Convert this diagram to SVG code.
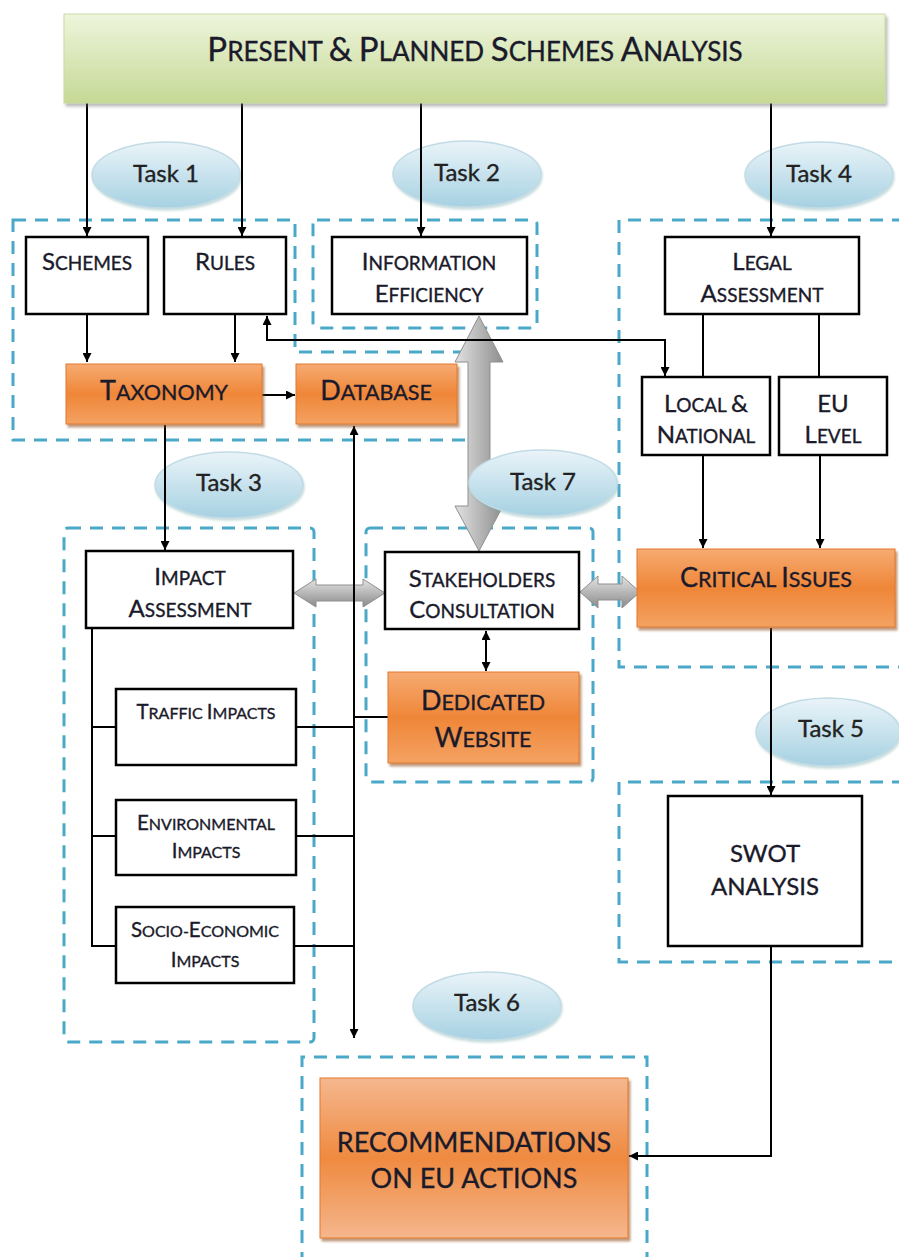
<svg xmlns="http://www.w3.org/2000/svg" width="899" height="1257" viewBox="0 0 899 1257">
<defs>
<linearGradient id="gHead" x1="0" y1="0" x2="0" y2="1"><stop offset="0" stop-color="#eef5dc"/><stop offset="1" stop-color="#c5d995"/></linearGradient>
<linearGradient id="gOr" x1="0" y1="0" x2="0" y2="1"><stop offset="0" stop-color="#f6ab72"/><stop offset="0.5" stop-color="#ef8638"/><stop offset="1" stop-color="#f4a262"/></linearGradient>
<linearGradient id="gOr2" x1="0" y1="0" x2="0" y2="1"><stop offset="0" stop-color="#f5b78e"/><stop offset="0.5" stop-color="#ef8a40"/><stop offset="1" stop-color="#f5b68c"/></linearGradient>
<linearGradient id="gEl" x1="0" y1="0" x2="0" y2="1"><stop offset="0" stop-color="#eaf4f9"/><stop offset="1" stop-color="#a6d1e2"/></linearGradient>
<linearGradient id="gGrV" x1="0" y1="0" x2="1" y2="0"><stop offset="0" stop-color="#e2e2e2"/><stop offset="1" stop-color="#8e8e8e"/></linearGradient>
<linearGradient id="gGrH" x1="0" y1="0" x2="0" y2="1"><stop offset="0" stop-color="#e4e4e4"/><stop offset="1" stop-color="#8a8a8a"/></linearGradient>
<filter id="sh" x="-5%" y="-10%" width="115%" height="130%"><feDropShadow dx="2" dy="3" stdDeviation="1.2" flood-color="#8a4a18" flood-opacity="0.55"/></filter>
<filter id="shG" x="-5%" y="-10%" width="115%" height="130%"><feDropShadow dx="2" dy="3" stdDeviation="1.5" flood-color="#666" flood-opacity="0.45"/></filter>
<filter id="shE" x="-10%" y="-10%" width="125%" height="130%"><feDropShadow dx="1" dy="2" stdDeviation="1.2" flood-color="#7aa" flood-opacity="0.4"/></filter>
<marker id="ah" viewBox="0 0 10 10" refX="10" refY="5" markerWidth="10" markerHeight="9" markerUnits="userSpaceOnUse" orient="auto-start-reverse"><path d="M0,0 L10,5 L0,10 z" fill="#000"/></marker>
</defs>
<style>
.dash{fill:none;stroke:#4aa9c8;stroke-width:3;stroke-dasharray:13,9}
.box{fill:#fff;stroke:#000;stroke-width:2.5}
.or{fill:url(#gOr);stroke:#e2782e;stroke-width:1;filter:url(#sh)}
.ln{fill:none;stroke:#000;stroke-width:2}
.ar{marker-end:url(#ah)}
.ar2{marker-start:url(#ah);marker-end:url(#ah)}
.el{fill:url(#gEl);stroke:#c2dbe5;stroke-width:1.5;filter:url(#shE)}
.blk{stroke:#8f8f8f;stroke-width:1}
text{font-family:Lato,"Liberation Sans",sans-serif;fill:#1a1a2a;stroke:#1a1a2a;stroke-width:0.35;text-anchor:middle}
.s0{font-size:26px}.b0{font-size:33px}
.s1{font-size:19px}.b1{font-size:24px}
.s2{font-size:21.5px}.b2{font-size:27px}
.s3{font-size:16px}.b3{font-size:20.5px}
.tk{font-size:24px;fill:#222;stroke:#222}
.cap{font-size:24px}
.cap2{font-size:27px}
</style>

<!-- dashed task regions -->
<g id="regions">
<path class="dash" d="M13,220 H295 V352 H470 V440 H13 Z"/>
<rect class="dash" x="313" y="220" width="224" height="108" rx="4"/>
<path class="dash" d="M905,220 H619 V667 H905"/>
<rect class="dash" x="64" y="528" width="250" height="514" rx="4"/>
<rect class="dash" x="366" y="528" width="227" height="254" rx="4"/>
<path class="dash" d="M905,782 H619 V962 H905"/>
<path class="dash" d="M302,1265 V1057 H647 V1265"/>
</g>

<!-- block arrows -->
<g id="block-arrows">
<polygon class="blk" fill="url(#gGrH)" points="294,593 316,579 316,585 363,585 363,579 385,593 363,607 363,601 316,601 316,607"/>
<polygon class="blk" fill="url(#gGrH)" points="580,592 598,576 598,584 622,584 622,576 640,592 622,608 622,600 598,600 598,608"/>
<polygon class="blk" fill="url(#gGrV)" points="479,316 503,362 490,362 490,506 503,506 479,551 455,506 468,506 468,362 455,362"/>
</g>

<!-- task labels -->
<g id="task1"><ellipse class="el" cx="166" cy="175" rx="74" ry="33"/><text class="tk" x="166" y="182">Task 1</text></g>
<g id="task2"><ellipse class="el" cx="467" cy="174" rx="74" ry="33"/><text class="tk" x="467" y="181">Task 2</text></g>
<g id="task4"><ellipse class="el" cx="819" cy="175" rx="74" ry="33"/><text class="tk" x="819" y="182">Task 4</text></g>
<g id="task3"><ellipse class="el" cx="229" cy="485" rx="74" ry="33"/><text class="tk" x="229" y="491">Task 3</text></g>
<g id="task7"><ellipse class="el" cx="543" cy="483" rx="74" ry="33"/><text class="tk" x="543" y="490">Task 7</text></g>
<g id="task5"><ellipse class="el" cx="828" cy="732" rx="72" ry="34"/><text class="tk" x="831" y="737">Task 5</text></g>
<g id="task6"><ellipse class="el" cx="487" cy="1006" rx="74" ry="34"/><text class="tk" x="487" y="1011">Task 6</text></g>

<!-- connectors -->
<g id="connectors">
<path class="ln ar" d="M87,103 V236"/>
<path class="ln ar" d="M242,103 V236"/>
<path class="ln ar" d="M421,103 V236"/>
<path class="ln ar" d="M771,103 V236"/>
<path class="ln ar" d="M87,315 V362"/>
<path class="ln ar" d="M235,315 V362"/>
<path class="ln ar" d="M262,395 H295"/>
<path class="ln ar2" d="M267,316 V340 H665 V376"/>
<path class="ln" d="M703,315 V377 M819,315 V377"/>
<path class="ln ar" d="M703,455 V548"/>
<path class="ln ar" d="M820,455 V548"/>
<path class="ln ar" d="M165,425 V550"/>
<path class="ln ar2" d="M354,426 V1038"/>
<path class="ln" d="M92,628 V946 H116 M92,727 H116 M92,836 H116"/>
<path class="ln" d="M296,727 H354 M296,836 H354 M294,946 H354 M388,717 H354"/>
<path class="ln ar2" d="M486,631 V671"/>
<path class="ln ar" d="M771,628 V795"/>
<path class="ln ar" d="M771,946 V1156 H629"/>
</g>

<!-- nodes -->
<g id="header">
<rect x="64" y="14" width="821" height="89" fill="url(#gHead)" stroke="#c9dba0" stroke-width="1" filter="url(#shG)"/>
<text class="s0" x="475" y="61"><tspan class="b0">P</tspan>RESENT <tspan class="b0">&amp;</tspan> <tspan class="b0">P</tspan>LANNED <tspan class="b0">S</tspan>CHEMES <tspan class="b0">A</tspan>NALYSIS</text>
</g>
<g id="schemes"><rect class="box" x="26" y="237" width="122" height="77"/><text class="s1" x="87" y="270"><tspan class="b1">S</tspan>CHEMES</text></g>
<g id="rules"><rect class="box" x="164" y="237" width="122" height="77"/><text class="s1" x="225" y="270"><tspan class="b1">R</tspan>ULES</text></g>
<g id="info"><rect class="box" x="332" y="237" width="195" height="77"/><text class="s1" x="429" y="270"><tspan class="b1">I</tspan>NFORMATION</text><text class="s1" x="429" y="302"><tspan class="b1">E</tspan>FFICIENCY</text></g>
<g id="legal"><rect class="box" x="665" y="237" width="194" height="77"/><text class="s1" x="762" y="270"><tspan class="b1">L</tspan>EGAL</text><text class="s1" x="762" y="302"><tspan class="b1">A</tspan>SSESSMENT</text></g>
<g id="taxonomy"><rect class="or" x="66" y="364" width="196" height="60"/><text class="s2" x="164" y="400"><tspan class="b2">T</tspan>AXONOMY</text></g>
<g id="database"><rect class="or" x="296" y="364" width="161" height="60"/><text class="s2" x="376" y="400"><tspan class="b2">D</tspan>ATABASE</text></g>
<g id="local"><rect class="box" x="642" y="377" width="128" height="78"/><text class="s1" x="706" y="412"><tspan class="b1">L</tspan>OCAL <tspan class="b1">&amp;</tspan></text><text class="s1" x="706" y="443"><tspan class="b1">N</tspan>ATIONAL</text></g>
<g id="eu"><rect class="box" x="779" y="377" width="108" height="78"/><text class="cap" x="833" y="412">EU</text><text class="s1" x="833" y="443"><tspan class="b1">L</tspan>EVEL</text></g>
<g id="impact"><rect class="box" x="86" y="551" width="207" height="77"/><text class="s1" x="190" y="585"><tspan class="b1">I</tspan>MPACT</text><text class="s1" x="190" y="617"><tspan class="b1">A</tspan>SSESSMENT</text></g>
<g id="stakeholders"><rect class="box" x="385" y="552" width="194" height="77"/><text class="s1" x="482" y="587"><tspan class="b1">S</tspan>TAKEHOLDERS</text><text class="s1" x="482" y="618"><tspan class="b1">C</tspan>ONSULTATION</text></g>
<g id="critical"><rect class="or" x="637" y="549" width="258" height="78"/><text class="s2" x="766" y="587"><tspan class="b2">C</tspan>RITICAL <tspan class="b2">I</tspan>SSUES</text></g>
<g id="website"><rect class="or" x="388" y="672" width="191" height="91"/><text class="s2" x="483" y="710"><tspan class="b2">D</tspan>EDICATED</text><text class="s2" x="483" y="747"><tspan class="b2">W</tspan>EBSITE</text></g>
<g id="traffic"><rect class="box" x="116" y="689" width="180" height="76"/><text class="s3" x="206" y="719"><tspan class="b3">T</tspan>RAFFIC <tspan class="b3">I</tspan>MPACTS</text></g>
<g id="environmental"><rect class="box" x="116" y="800" width="180" height="75"/><text class="s3" x="206" y="830"><tspan class="b3">E</tspan>NVIRONMENTAL</text><text class="s3" x="206" y="858"><tspan class="b3">I</tspan>MPACTS</text></g>
<g id="socio"><rect class="box" x="116" y="907" width="178" height="76"/><text class="s3" x="205" y="937"><tspan class="b3">S</tspan>OCIO-<tspan class="b3">E</tspan>CONOMIC</text><text class="s3" x="205" y="967"><tspan class="b3">I</tspan>MPACTS</text></g>
<g id="swot"><rect class="box" x="668" y="796" width="194" height="150"/><text class="cap" x="765" y="862">SWOT</text><text class="cap" x="765" y="895">ANALYSIS</text></g>
<g id="recommendations"><rect x="320" y="1078" width="308" height="160" fill="url(#gOr2)" stroke="#e2782e" stroke-width="1" filter="url(#sh)"/><text class="cap2" x="474" y="1152">RECOMMENDATIONS</text><text class="cap2" x="474" y="1188">ON EU ACTIONS</text></g>
</svg>
